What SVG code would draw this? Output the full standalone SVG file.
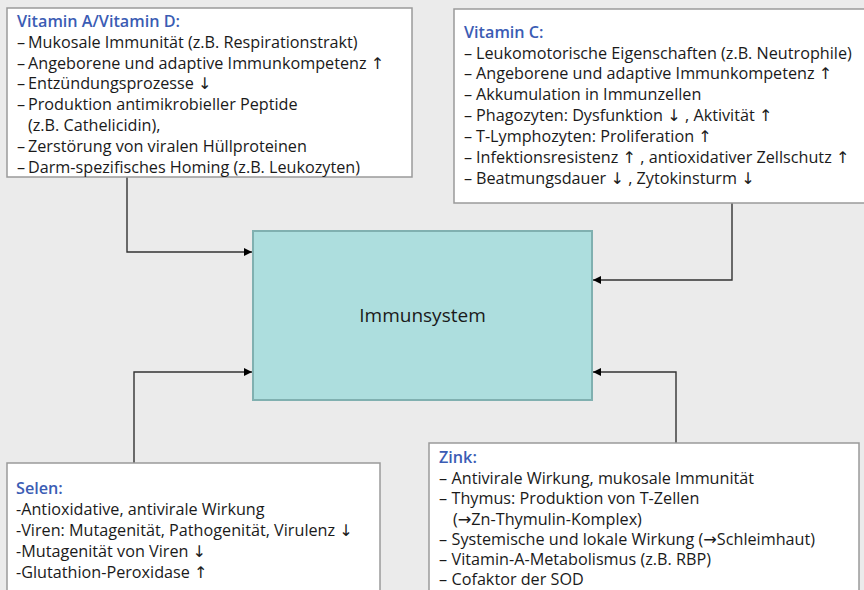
<svg xmlns="http://www.w3.org/2000/svg" width="864" height="590" viewBox="0 0 864 590">
<defs>
<style>
.bg{fill:#EBEBEB}
.box{fill:#FFFFFF;stroke:#9A9A9A;stroke-width:1.5}
.core{fill:#ADDEDE;stroke:#80B0B0;stroke-width:2}
.t{font-family:"Open Sans","Noto Sans","DejaVu Sans",sans-serif;font-size:16.2px;fill:#1A1A1A}
.h{font-family:"Open Sans","Noto Sans","DejaVu Sans",sans-serif;font-size:16.2px;font-weight:600;fill:#3B5CB4}
.c{font-family:"Open Sans","Noto Sans","DejaVu Sans",sans-serif;font-size:19px;fill:#1A1A1A}
.ln{fill:none;stroke:#333333;stroke-width:1.4}
</style>
<marker id="arr" viewBox="0 0 10 10" refX="10" refY="5" markerWidth="8" markerHeight="8" markerUnits="userSpaceOnUse" orient="auto">
<path d="M0,0 L10,5 L0,10 Z" fill="#000000"/>
</marker>
</defs>
<rect class="bg" x="0" y="0" width="864" height="590"/>

<g id="connectors">
<path class="ln" d="M127,177 V252 H252" marker-end="url(#arr)"/>
<path class="ln" d="M732,203 V280 H593" marker-end="url(#arr)"/>
<path class="ln" d="M134,463 V372 H252" marker-end="url(#arr)"/>
<path class="ln" d="M676,443 V372 H593" marker-end="url(#arr)"/>
</g>

<g id="immunsystem">
<rect class="core" x="253" y="231" width="339" height="169"/>
<text class="c" x="422.5" y="322" text-anchor="middle">Immunsystem</text>
</g>

<g id="vitamin-ad">
<rect class="box" x="7" y="8" width="405" height="169"/>
<text class="h" x="17" y="27">Vitamin A/Vitamin D:</text>
<text class="t" x="17" y="48">– <tspan x="28">Mukosale Immunität (z.B. Respirationstrakt)</tspan></text>
<text class="t" x="17" y="68.5">– <tspan x="28">Angeborene und adaptive Immunkompetenz ↑</tspan></text>
<text class="t" x="17" y="89">– <tspan x="28">Entzündungsprozesse ↓</tspan></text>
<text class="t" x="17" y="110">– <tspan x="28">Produktion antimikrobieller Peptide</tspan></text>
<text class="t" x="28" y="131">(z.B. Cathelicidin),</text>
<text class="t" x="17" y="152">– <tspan x="28">Zerstörung von viralen Hüllproteinen</tspan></text>
<text class="t" x="17" y="172.5">– <tspan x="28">Darm-spezifisches Homing (z.B. Leukozyten)</tspan></text>
</g>

<g id="vitamin-c">
<rect class="box" x="454" y="9" width="420" height="194"/>
<text class="h" x="464" y="38">Vitamin C:</text>
<text class="t" x="464" y="58.5">– <tspan x="476">Leukomotorische Eigenschaften (z.B. Neutrophile)</tspan></text>
<text class="t" x="464" y="79">– <tspan x="476">Angeborene und adaptive Immunkompetenz ↑</tspan></text>
<text class="t" x="464" y="100">– <tspan x="476">Akkumulation in Immunzellen</tspan></text>
<text class="t" x="464" y="121">– <tspan x="476">Phagozyten: Dysfunktion ↓ , Aktivität ↑</tspan></text>
<text class="t" x="464" y="141.5">– <tspan x="476">T-Lymphozyten: Proliferation ↑</tspan></text>
<text class="t" x="464" y="162.5">– <tspan x="476">Infektionsresistenz ↑ , antioxidativer Zellschutz ↑</tspan></text>
<text class="t" x="464" y="183.5">– <tspan x="476">Beatmungsdauer ↓ , Zytokinsturm ↓</tspan></text>
</g>

<g id="selen">
<rect class="box" x="7" y="463" width="373" height="140"/>
<text class="h" x="16" y="494">Selen:</text>
<text class="t" x="16" y="515">-Antioxidative, antivirale Wirkung</text>
<text class="t" x="16" y="536">-Viren: Mutagenität, Pathogenität, Virulenz ↓</text>
<text class="t" x="16" y="557">-Mutagenität von Viren ↓</text>
<text class="t" x="16" y="577.5">-Glutathion-Peroxidase ↑</text>
</g>

<g id="zink">
<rect class="box" x="429" y="443" width="430" height="160"/>
<text class="h" x="439" y="463">Zink:</text>
<text class="t" x="439" y="483.5">– <tspan x="451.5">Antivirale Wirkung, mukosale Immunität</tspan></text>
<text class="t" x="439" y="504">– <tspan x="451.5">Thymus: Produktion von T-Zellen</tspan></text>
<text class="t" x="453" y="524.5">(→Zn-Thymulin-Komplex)</text>
<text class="t" x="439" y="545">– <tspan x="451.5">Systemische und lokale Wirkung (→Schleimhaut)</tspan></text>
<text class="t" x="439" y="565">– <tspan x="451.5">Vitamin-A-Metabolismus (z.B. RBP)</tspan></text>
<text class="t" x="439" y="585">– <tspan x="451.5">Cofaktor der SOD</tspan></text>
</g>
</svg>
